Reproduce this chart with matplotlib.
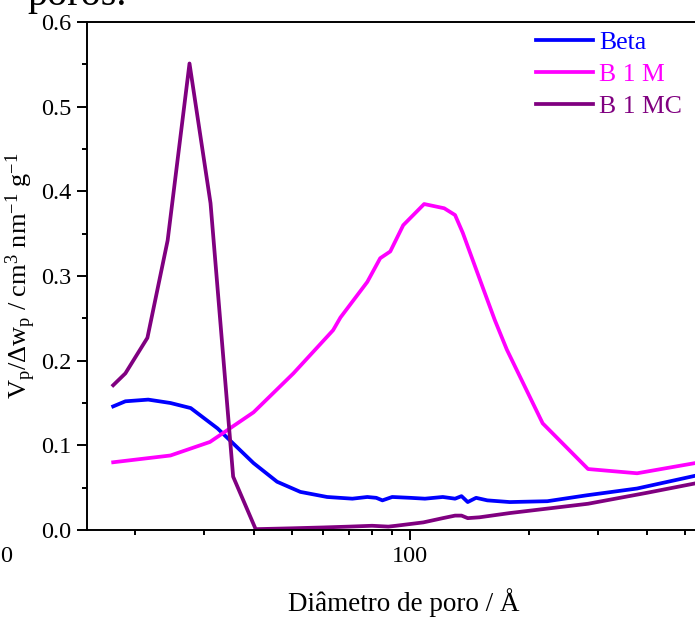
from matplotlib import pyplot as plt
from matplotlib.ticker import LogLocator, ScalarFormatter, MultipleLocator, NullFormatter

plt.rcParams['font.family'] = ['Liberation Serif', 'DejaVu Serif']
plt.rcParams['mathtext.fontset'] = 'custom'
plt.rcParams['mathtext.rm'] = 'Liberation Serif'
plt.rcParams['mathtext.it'] = 'Liberation Serif:italic'

beta_x = [17.6, 18.9, 21.6, 24.6, 27.7, 32.4, 40, 45.9, 52.6, 61.5, 71.3, 77.8, 82, 85, 90,
          100, 109, 121, 130, 135, 140, 147, 157, 179, 223, 281, 377, 529]
beta_y = [0.146, 0.152, 0.154, 0.150, 0.144, 0.120, 0.079, 0.057, 0.045, 0.039, 0.037, 0.039,
          0.038, 0.035, 0.039, 0.038, 0.037, 0.039, 0.037, 0.040, 0.033, 0.038, 0.035, 0.033,
          0.034, 0.041, 0.049, 0.064]

b1m_x = [17.6, 24.6, 31, 40, 50.5, 63.7, 66.5, 77.8, 83.9, 89, 96, 108.5, 122, 130, 136,
         153, 164, 176, 217, 283, 377, 529]
b1m_y = [0.080, 0.088, 0.104, 0.139, 0.185, 0.236, 0.251, 0.293, 0.321, 0.329, 0.360, 0.385,
         0.380, 0.372, 0.351, 0.286, 0.248, 0.213, 0.126, 0.072, 0.067, 0.079]

b1mc_x = [17.6, 18.9, 21.5, 24.2, 27.5, 31.1, 35.5, 40.5, 50, 60, 70, 80, 88, 92, 108,
          121, 130, 135, 140, 150, 179, 283, 400, 529]
b1mc_y = [0.171, 0.185, 0.227, 0.342, 0.551, 0.386, 0.063, 0.001, 0.002, 0.003, 0.004, 0.005,
          0.004, 0.005, 0.009, 0.014, 0.017, 0.017, 0.014, 0.015, 0.020, 0.031, 0.044, 0.055]

series = [
    ('Beta', beta_x, beta_y, '#0000ff'),
    ('B 1 M', b1m_x, b1m_y, '#ff00ff'),
    ('B 1 MC', b1mc_x, b1mc_y, '#800080'),
]

figure = plt.figure(figsize=(6.95, 6.19), dpi=100)
axes = figure.add_axes([87 / 695, 1 - 530 / 619, 1 - 87 / 695, (530 - 22) / 619])

for name, xs, ys, color in series:
    axes.plot(xs, ys, color=color, linewidth=2.7, label=name, solid_joinstyle='round')

axes.set_xscale('log')
axes.set_xlim(15.1, 529)
axes.set_ylim(0, 0.6)

axes.xaxis.set_major_locator(LogLocator(base=10))
axes.xaxis.set_major_formatter(ScalarFormatter())
axes.xaxis.set_minor_locator(LogLocator(base=10, subs=range(2, 10)))
axes.xaxis.set_minor_formatter(NullFormatter())
axes.yaxis.set_major_locator(MultipleLocator(0.1))
axes.yaxis.set_minor_locator(MultipleLocator(0.05))
axes.yaxis.set_major_formatter(plt.FuncFormatter(lambda v, p: '{:.1f}'.format(v)))

axes.tick_params(which='major', direction='out', length=7.5, width=1.4, labelsize=17.5, pad=4)
axes.tick_params(which='minor', direction='out', length=3.8, width=1.4)
axes.spines['right'].set_visible(False)
for side in ['left', 'bottom', 'top']:
    axes.spines[side].set_linewidth(1.4)

axes.set_xlabel('Diâmetro de poro / Å', fontsize=19.5, labelpad=14)
axes.xaxis.set_label_coords((404 - 87) / (695 - 87), -0.115)
axes.set_ylabel(r'V$_\mathrm{p}$/$\Delta$w$_\mathrm{p}$ / cm$^3$ nm$^{-1}$ g$^{-1}$', fontsize=19, labelpad=2)

legend = axes.legend(loc='upper left', bbox_to_anchor=(536 / 695, 1 - 31 / 619),
                     bbox_transform=figure.transFigure, frameon=False, fontsize=18.5,
                     handlelength=2.2, handletextpad=0.27, labelspacing=0.36,
                     borderpad=0, borderaxespad=0, labelcolor='linecolor')

figure.text(27 / 695, 1 - 5 / 619, 'poros.', fontsize=29, ha='left', va='baseline')
figure.text(0, 1 - 557 / 619, '0', fontsize=17.5, ha='left', va='center')

plt.savefig('out.png', dpi=100)
